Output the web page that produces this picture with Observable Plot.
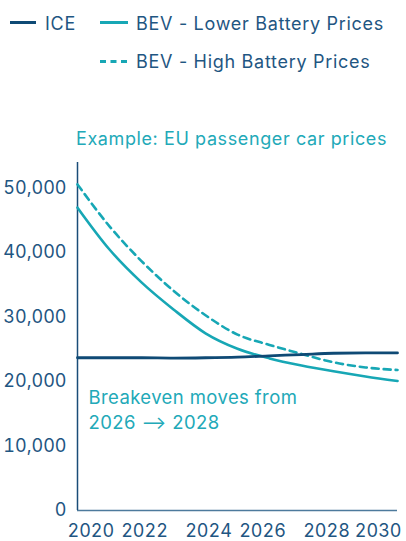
<!DOCTYPE html>
<html><head><meta charset="utf-8">
<script src="https://cdn.jsdelivr.net/npm/d3@7"></script>
<script src="https://cdn.jsdelivr.net/npm/@observablehq/plot@0.6"></script>
<style>
body{margin:0;background:#fff;font-family:Inter,"Noto Sans",sans-serif;}
#wrap{position:relative;width:406px;height:541px;overflow:hidden;background:#fff;}
.leg{position:absolute;font-size:18px;line-height:18px;color:#1f5682;white-space:nowrap;letter-spacing:0.7px;}
.sw{position:absolute;}
#sub{position:absolute;left:76px;top:130px;font-size:18px;line-height:18px;color:#22a9b8;white-space:nowrap;letter-spacing:0.6px;}
#chart{position:absolute;left:0;top:150px;}
</style>
</head><body>
<div id="wrap">
  <svg class="sw" style="left:10px;top:20px" width="26" height="5"><line x1="0" x2="26" y1="2.5" y2="2.5" stroke="#0f4a75" stroke-width="3"/></svg>
  <div class="leg" style="left:45px;top:15px">ICE</div>
  <svg class="sw" style="left:100px;top:20px" width="28" height="5"><line x1="0" x2="28" y1="2.5" y2="2.5" stroke="#17a7b5" stroke-width="3"/></svg>
  <div class="leg" style="left:136px;top:15px">BEV - Lower Battery Prices</div>
  <svg class="sw" style="left:100px;top:59px" width="28" height="5"><line x1="0" x2="28" y1="2.5" y2="2.5" stroke="#17a7b5" stroke-width="3" stroke-dasharray="6,4.5"/></svg>
  <div class="leg" style="left:136px;top:53px">BEV - High Battery Prices</div>
  <div id="sub">Example: EU passenger car prices</div>
  <div id="chart"></div>
</div>
<script>
const years = [2020, 2021, 2022, 2023, 2024, 2025, 2026, 2027, 2028, 2029, 2030];
const iceValues = [23700, 23700, 23700, 23650, 23700, 23800, 24000, 24200, 24400, 24450, 24450];
const bevLowerValues = [47000, 40500, 35400, 31200, 27500, 25100, 23600, 22500, 21600, 20800, 20100];
const bevHighValues = [50600, 44100, 38700, 34100, 30300, 27300, 25700, 24300, 23000, 22200, 21800];
const seriesNames = ["ICE", "BEV - Lower Battery Prices", "BEV - High Battery Prices"];
const yTicks = [0, 10000, 20000, 30000, 40000, 50000];
const xTickFirst = [2020];
const xTickMidA = [2022, 2024];
const xTickMidB = [2026, 2028];
const xTickLast = [2030];
const annoX = [2020];
const annoY = [19200];
const annoText = ["Breakeven moves from\n2026 \u27F6 2028"];

const rows = years.flatMap((yr, i) => [
  {year: yr, value: iceValues[i], series: seriesNames[0]},
  {year: yr, value: bevLowerValues[i], series: seriesNames[1]},
  {year: yr, value: bevHighValues[i], series: seriesNames[2]}
]);
const annotations = annoX.map((x, i) => ({x, y: annoY[i], text: annoText[i]}));

const axisStyle = {tickSize: 0, tickPadding: 14, fontSize: 18, label: null, tickFormat: d => String(d)};

const chart = Plot.plot({
  width: 406,
  height: 391,
  marginLeft: 77,
  marginRight: 9,
  marginTop: 12,
  marginBottom: 31,
  style: {fontFamily: "Inter, 'Noto Sans', sans-serif", fontSize: "18px", color: "#1f5682", background: "transparent", overflow: "visible"},
  x: {domain: [2020, 2030], axis: null},
  y: {domain: [0, 54000], axis: null},
  marks: [
    Plot.ruleY([0], {stroke: "#4d7a9c", strokeWidth: 1.5}),
    Plot.ruleX(xTickFirst, {stroke: "#1a4d78", strokeWidth: 1.5}),
    Plot.line(rows.filter(d => d.series === seriesNames[1]), {x: "year", y: "value", stroke: "#17a7b5", strokeWidth: 2.6, curve: "monotone-x"}),
    Plot.line(rows.filter(d => d.series === seriesNames[2]), {x: "year", y: "value", stroke: "#17a7b5", strokeWidth: 2.6, strokeDasharray: "7,5", curve: "monotone-x"}),
    Plot.line(rows.filter(d => d.series === seriesNames[0]), {x: "year", y: "value", stroke: "#0f4a75", strokeWidth: 2.8, curve: "monotone-x"}),
    Plot.text(annotations, {x: "x", y: "y", text: "text", textAnchor: "start", lineAnchor: "top", dx: 11, fontSize: 18.5, lineHeight: 1.32, fill: "#22a9b8", style: "letter-spacing:0.4px"}),
    Plot.axisY({...axisStyle, tickPadding: 11, ticks: yTicks, tickFormat: d3.format(",")}),
    Plot.axisX({...axisStyle, ticks: xTickFirst, textAnchor: "start", dx: -10}),
    Plot.axisX({...axisStyle, ticks: xTickMidA, dx: 3}),
    Plot.axisX({...axisStyle, ticks: xTickMidB, dx: -7}),
    Plot.axisX({...axisStyle, ticks: xTickLast, textAnchor: "end", dx: 4})
  ]
});
chart.querySelectorAll("text").forEach(t => { if (t.closest("[aria-label='text']")) t.style.letterSpacing = "0.4px"; });
document.getElementById("chart").appendChild(chart);
</script>
</body></html>
